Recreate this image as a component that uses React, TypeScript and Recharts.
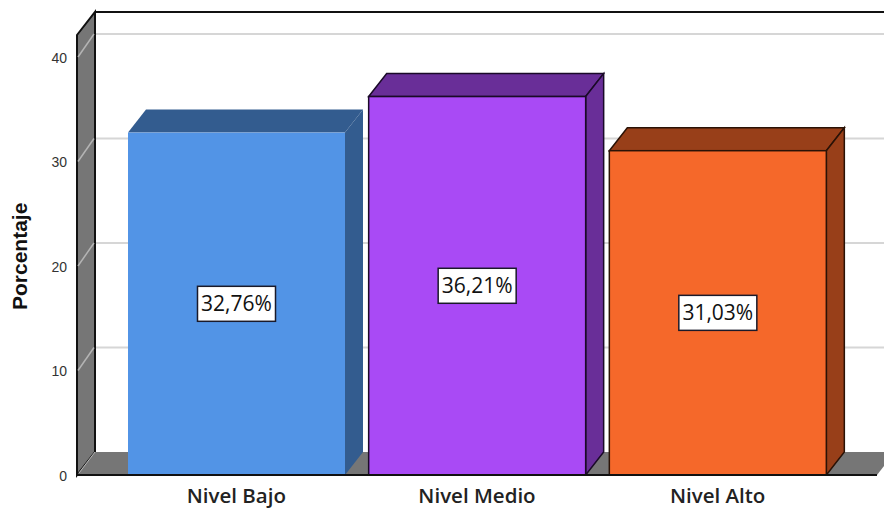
import React from "react";
import { BarChart, Bar, XAxis, YAxis, ReferenceArea, Cell, LabelList } from "recharts";

const categories = ["Nivel Bajo", "Nivel Medio", "Nivel Alto"];
const values = [32.76, 36.21, 31.03];
const labels = ["32,76%", "36,21%", "31,03%"];
const frontColors = ["#5294e6", "#a94af5", "#f5682a"];
const topColors = ["#335c8f", "#692e98", "#983f19"];
const edgeColors = ["none", "#1a0a28", "#2a1206"];
const yTicks = [0, 10, 20, 30, 40];
const gridTicks = [10, 20, 30, 40];

const data = categories.map((name, i) => ({ name, value: values[i], label: labels[i] }));

const W = 884;
const H = 508;
const DX = 18;
const DY = 23;
const PAD = 39;
const AXIS_X = 77;
const WALL = "#767676";

function Shell(props: any) {
  const { y, height } = props;
  const x = AXIS_X;
  const width = W - 7 - AXIS_X;
  const b = y + height;
  return (
    <g>
      <polygon points={`${x},${y} ${x + DX},${y - DY} ${x + DX},${b - DY} ${x},${b}`} fill={WALL} stroke="#111" strokeWidth={2} />
      <polygon points={`${x},${b} ${x + DX},${b - DY} ${x + width + DX},${b - DY} ${x + width},${b}`} fill={WALL} />
      <line x1={x + DX} y1={b - DY} x2={x + DX} y2={y - DY} stroke="#111" strokeWidth={2} />
      <line x1={x + DX} y1={y - DY} x2={W} y2={y - DY} stroke="#111" strokeWidth={2} />
      <line x1={x + 2} y1={b - 2} x2={x + DX} y2={b - DY} stroke="#b8b8b8" strokeWidth={1} />
    </g>
  );
}

function GridLine(props: any) {
  const y = props.y;
  const left = AXIS_X;
  return (
    <g>
      <line x1={left + 1} y1={y} x2={left + DX - 1} y2={y - DY} stroke="#b4b4b4" strokeWidth={1.5} />
      <line x1={left + DX + 1} y1={y - DY} x2={W} y2={y - DY} stroke="#d6d6d6" strokeWidth={2} />
    </g>
  );
}

function AxisTick(props: any) {
  const { y, payload } = props;
  return (
    <text x={67} y={y + 6} textAnchor="end" fontFamily="Liberation Sans" fontSize={14} fill="#333">
      {payload.value}
    </text>
  );
}

function Box3D(props: any) {
  const { x, y, width, height, index } = props;
  const r = x + width;
  const b = y + height;
  const e = edgeColors[index];
  const sw = e === "none" ? 0 : 1.5;
  return (
    <g>
      <polygon points={`${x},${y} ${x + DX},${y - DY} ${r + DX},${y - DY} ${r},${y}`} fill={topColors[index]} stroke={e} strokeWidth={sw} />
      <polygon points={`${r},${y} ${r + DX},${y - DY} ${r + DX},${b - DY} ${r},${b}`} fill={topColors[index]} stroke={e} strokeWidth={sw} />
      <rect x={x} y={y} width={width} height={height} fill={frontColors[index]} stroke={e} strokeWidth={sw} />
    </g>
  );
}

function ValueTag(props: any) {
  const { x, y, width, height, value } = props;
  const cx = x + width / 2;
  const cy = y + height / 2;
  return (
    <g>
      <rect x={cx - 39} y={cy - 17.5} width={78} height={35} fill="#fff" stroke="#1a1a2a" strokeWidth={1.5} />
      <text x={cx} y={cy + 7.5} textAnchor="middle" fontFamily="Open Sans" fontSize={21} fontWeight={500} fill="#111">
        {value}
      </text>
    </g>
  );
}

export default function App() {
  return (
    <div style={{ position: "absolute", left: 0, top: 0, width: W, height: H, background: "#fff" }}>
      <BarChart width={W} height={H} data={data} margin={{ top: 35, right: 7, bottom: 0, left: 0 }} barSize={217}>
        <ReferenceArea shape={<Shell />} ifOverflow="visible" />
        {gridTicks.map((t) => (
          <ReferenceArea key={t} y1={0} y2={t} shape={<GridLine />} ifOverflow="visible" />
        ))}
        <YAxis
          width={77}
          domain={[0, 42.1]}
          ticks={yTicks}
          allowDataOverflow
          axisLine={false}
          tickLine={false}
          tick={<AxisTick />}
          label={{
            value: "Porcentaje",
            angle: -90,
            position: "insideLeft",
            offset: 20,
            dy: 55,
            style: { fontFamily: "Liberation Sans", fontSize: 21, fontWeight: 700, fill: "#111" },
          }}
        />
        <XAxis
          dataKey="name"
          height={33}
          padding={{ left: PAD, right: PAD }}
          axisLine={{ stroke: "#111", strokeWidth: 2 }}
          tickLine={false}
          tickMargin={7}
          tick={{ fontFamily: "Open Sans", fontSize: 20.5, fontWeight: 600, fill: "#222" }}
        />
        <Bar dataKey="value" shape={<Box3D />} isAnimationActive={false}>
          {data.map((d) => (
            <Cell key={d.name} />
          ))}
          <LabelList dataKey="label" content={<ValueTag />} />
        </Bar>
      </BarChart>
    </div>
  );
}
